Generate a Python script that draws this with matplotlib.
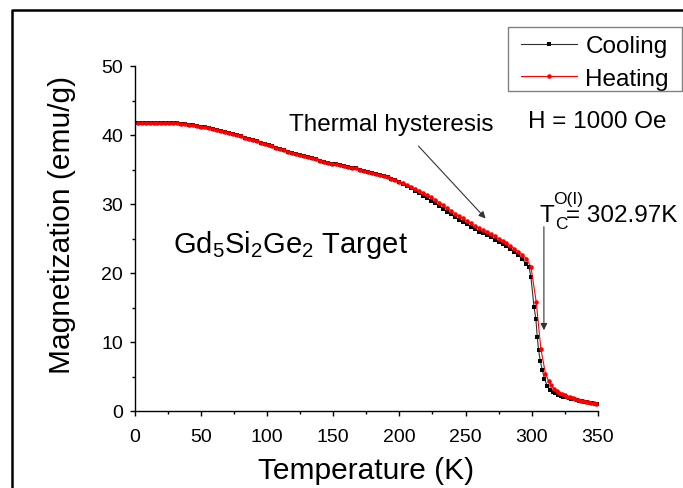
import matplotlib
matplotlib.use("Agg")
import matplotlib.pyplot as plt
from matplotlib.lines import Line2D
from matplotlib.patches import Rectangle
from matplotlib.ticker import MultipleLocator

plt.rcParams['font.family'] = ['Liberation Sans', 'DejaVu Sans']
plt.rcParams['mathtext.fontset'] = 'custom'
plt.rcParams['mathtext.rm'] = 'Liberation Sans'
plt.rcParams['mathtext.it'] = 'Liberation Sans'
plt.rcParams['mathtext.bf'] = 'Liberation Sans:bold'

# Temperature sweep shared by the smooth (ferromagnetic) part of both runs, K
temp_low = [2, 5, 8, 11, 14, 17, 20, 23, 26, 29, 32, 35, 38, 41, 44, 47, 50,
            53, 56, 59, 62, 65, 68, 71, 74, 77, 80, 83, 86, 89, 92, 95, 98,
            101, 104, 107, 110, 113, 116, 119, 122, 125, 128, 131, 134, 137,
            140, 143, 146, 149, 152, 155, 158, 161, 164, 167, 170, 173, 176,
            179, 182, 185, 188, 191, 194, 197, 200, 203, 206, 209, 212, 215,
            218, 221, 224, 227, 230, 233, 236, 239, 242, 245, 248, 251, 254,
            257, 260, 263, 266, 269, 272, 275, 278, 281, 284, 287, 290, 293, 296]

# Heating run, emu/g
heat_low = [41.8, 41.8, 41.8, 41.8, 41.8, 41.8, 41.8, 41.8, 41.78, 41.75, 41.7,
            41.65, 41.55, 41.48, 41.4, 41.3, 41.2, 41.1, 40.95, 40.85, 40.7,
            40.55, 40.4, 40.25, 40.1, 39.95, 39.8, 39.6, 39.45, 39.25, 39.1,
            38.9, 38.7, 38.55, 38.35, 38.15, 38.0, 37.8, 37.6, 37.4, 37.2,
            37.05, 36.9, 36.75, 36.6, 36.45, 36.3, 36.15, 36.0, 35.85, 35.75,
            35.6, 35.5, 35.4, 35.25, 35.15, 35.0, 34.85, 34.7, 34.55, 34.4,
            34.2, 34.05, 33.85, 33.65, 33.45, 33.2, 33.0, 32.75, 32.5, 32.2,
            31.9, 31.6, 31.3, 30.95, 30.6, 30.2, 29.8, 29.4, 29.0, 28.6, 28.25,
            27.9, 27.55, 27.2, 26.85, 26.5, 26.2, 25.9, 25.6, 25.3, 25.0, 24.7,
            24.3, 23.9, 23.5, 23.1, 22.6, 22.1]
temp_heat_high = [299.5, 303.5, 307.0, 310.5, 313, 315, 317, 319, 321, 323, 325,
                  327, 329, 331, 333, 335, 337, 339, 341, 343, 345, 347, 349]
heat_high = [20.9, 15.8, 9.0, 5.4, 4.3, 3.7, 3.2, 2.9, 2.6, 2.4, 2.25, 2.1, 1.98,
             1.85, 1.75, 1.62, 1.52, 1.42, 1.33, 1.25, 1.17, 1.1, 1.03]

# Cooling run, emu/g
cool_low = [41.8, 41.8, 41.8, 41.8, 41.8, 41.8, 41.8, 41.8, 41.78, 41.75, 41.7,
            41.65, 41.55, 41.48, 41.4, 41.3, 41.2, 41.1, 40.95, 40.85, 40.7,
            40.55, 40.4, 40.25, 40.1, 39.95, 39.8, 39.6, 39.45, 39.25, 39.1,
            38.9, 38.7, 38.55, 38.35, 38.15, 38.0, 37.8, 37.6, 37.4, 37.2,
            37.05, 36.9, 36.75, 36.6, 36.45, 36.3, 36.15, 36.0, 35.85, 35.75,
            35.6, 35.5, 35.4, 35.25, 35.15, 35.0, 34.85, 34.7, 34.55, 34.4,
            34.2, 34.05, 33.85, 33.65, 33.45, 33.2, 32.9, 32.6, 32.3, 31.9,
            31.55, 31.2, 30.8, 30.45, 30.1, 29.7, 29.3, 28.9, 28.5, 28.1, 27.75,
            27.4, 27.05, 26.7, 26.35, 26.0, 25.75, 25.45, 25.15, 24.85, 24.55,
            24.25, 23.85, 23.45, 23.05, 22.6, 22.0, 21.3]
temp_cool_high = [298.0, 299.5, 301.8, 303.2, 304.3, 305.3, 306.6, 308.2, 309.7,
                  312, 314, 316, 318, 320, 322, 324, 326, 328, 330, 332, 334,
                  336, 338, 340, 342, 344, 346, 348, 350]
cool_high = [20.9, 19.4, 15.1, 13.4, 10.7, 8.8, 7.2, 5.9, 4.65, 3.6, 3.1, 2.8,
             2.55, 2.35, 2.2, 2.1, 2.0, 1.9, 1.8, 1.7, 1.6, 1.5, 1.42, 1.33,
             1.25, 1.18, 1.1, 1.05, 1.0]

temp_heat = temp_low + temp_heat_high
mag_heat = heat_low + heat_high
temp_cool = temp_low + temp_cool_high
mag_cool = cool_low + cool_high

W, H = 683, 489
fig = plt.figure(figsize=(W / 100, H / 100), dpi=100)
ax = fig.add_axes([135 / W, 1 - 412 / H, 462.7 / W, 345 / H])

ax.plot(temp_cool, mag_cool, color='#303030', lw=0.8, marker='s', ms=2.9,
        mfc='black', mec='black', mew=0, label='Cooling', zorder=3)
ax.plot(temp_heat, mag_heat, color='red', lw=0.8, marker='o', ms=3.3,
        mfc='red', mec='red', mew=0, label='Heating', zorder=4)

ax.set_xlim(0, 350)
ax.set_ylim(0, 50)
ax.xaxis.set_major_locator(MultipleLocator(50))
ax.xaxis.set_minor_locator(MultipleLocator(25))
ax.yaxis.set_major_locator(MultipleLocator(10))
ax.yaxis.set_minor_locator(MultipleLocator(5))
for side in ('top', 'right'):
    ax.spines[side].set_visible(False)
for side in ('left', 'bottom'):
    ax.spines[side].set_linewidth(1.0)
ax.tick_params(which='major', direction='out', length=3.5, width=1.0,
               labelsize=14)
ax.tick_params(axis='x', which='major', pad=8.5)
ax.tick_params(axis='y', which='major', pad=5)
ax.tick_params(which='minor', direction='out', length=2.2, width=1.0)

ax.set_xlabel('Temperature (K)', fontsize=21.5, labelpad=8.5)
ax.set_ylabel('Magnetization (emu/g)', fontsize=21.5)
ax.yaxis.set_label_coords(-0.127, 0.542)

# Legend entries without their own frame; a plain grey box is drawn around them
ax.legend(loc='upper left', bbox_to_anchor=(521 / W, 1 - 36 / H),
          bbox_transform=fig.transFigure, borderaxespad=0, borderpad=0,
          fontsize=17.5, frameon=False, handlelength=2.3, handletextpad=0.35,
          labelspacing=0.45)
fig.add_artist(Rectangle((508 / W, 1 - 92 / H), 174 / W, 64 / H,
                         transform=fig.transFigure, fill=False,
                         edgecolor='#808080', lw=1.0))

ax.text(116.7, 41.6, 'Thermal hysteresis', fontsize=17.5, ha='left', va='center')
ax.text(297, 42.1, 'H = 1000 Oe', fontsize=17.5, ha='left', va='center')
ax.text(28.8, 23.1, r'Gd$_\mathregular{5}$Si$_\mathregular{2}$Ge$_\mathregular{2}$ Target',
        fontsize=21, ha='left', va='baseline')

# Curie temperature label, built from pieces so "=" sits right after the subscript
tc_anchor = (306.3, 27.6)
tc_parts = [('T', 17.5, 0.0, 0.0), ('C', 12.5, 11.0, -5.0),
            ('O(I)', 12.5, 9.5, 12.5), ('= 302.97K', 17.5, 19.0, 0.0)]
for txt, size, dx, dy in tc_parts:
    ax.annotate(txt, xy=tc_anchor, xytext=(dx, dy), textcoords='offset points',
                fontsize=size, ha='left', va='baseline')

arrow_style = dict(arrowstyle='-|>', color='#333333', lw=0.8,
                   mutation_scale=10, shrinkA=0, shrinkB=0)
ax.annotate('', xy=(265.2, 27.9), xytext=(214.4, 38.4), arrowprops=arrow_style)
ax.annotate('', xy=(309.3, 11.7), xytext=(309.3, 26.7), arrowprops=arrow_style)

# Frame lines along the left and top of the canvas
fig.add_artist(Line2D([12 / W, 12 / W, 1.0], [0.0, 1 - 11 / H, 1 - 11 / H],
                      transform=fig.transFigure, color='black', lw=1.8))

fig.savefig('out.png', dpi=100)
